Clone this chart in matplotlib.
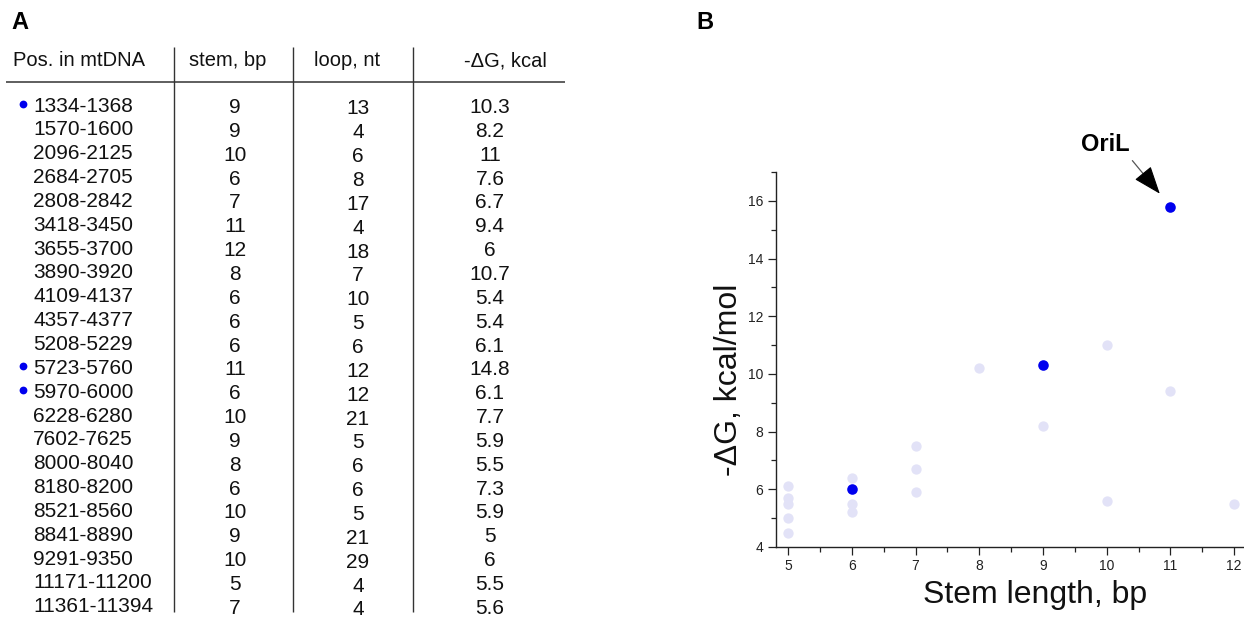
import matplotlib
matplotlib.use("Agg")
import matplotlib.pyplot as plt

plt.rcParams['font.family'] = ['Liberation Sans', 'DejaVu Sans']

# ---------------- data ----------------
positions = ["1334-1368", "1570-1600", "2096-2125", "2684-2705", "2808-2842",
             "3418-3450", "3655-3700", "3890-3920", "4109-4137", "4357-4377",
             "5208-5229", "5723-5760", "5970-6000", "6228-6280", "7602-7625",
             "8000-8040", "8180-8200", "8521-8560", "8841-8890", "9291-9350",
             "11171-11200", "11361-11394"]
stem_bp = [9, 9, 10, 6, 7, 11, 12, 8, 6, 6, 6, 11, 6, 10, 9, 8, 6, 10, 9, 10, 5, 7]
loop_nt = [13, 4, 6, 8, 17, 4, 18, 7, 10, 5, 6, 12, 12, 21, 5, 6, 6, 5, 21, 29, 4, 4]
dg_kcal = ["10.3", "8.2", "11", "7.6", "6.7", "9.4", "6", "10.7", "5.4", "5.4",
           "6.1", "14.8", "6.1", "7.7", "5.9", "5.5", "7.3", "5.9", "5", "6",
           "5.5", "5.6"]
marked_rows = [0, 11, 12]
headers = ["Pos. in mtDNA", "stem, bp", "loop, nt", "-\u0394G, kcal"]

stem_other = [5, 5, 5, 5, 5, 6, 6, 6, 7, 7, 7, 8, 9, 10, 10, 11, 12]
dg_other = [6.1, 5.7, 5.5, 5.0, 4.5, 6.4, 5.5, 5.2, 7.5, 6.7, 5.9, 10.2, 8.2,
            11.0, 5.6, 9.4, 5.5]
stem_hl = [6, 9, 11]
dg_hl = [6.0, 10.3, 15.8]
x_ticks = [5, 6, 7, 8, 9, 10, 11, 12]
y_ticks = [4, 6, 8, 10, 12, 14, 16]

# ---------------- figure ----------------
W, H = 1244, 617
fig = plt.figure(figsize=(W / 100, H / 100), dpi=100)
fig.patch.set_facecolor('white')

# pixel-space overlay axes for the table
tax = fig.add_axes([0, 0, 1, 1])
tax.set_xlim(0, W)
tax.set_ylim(H, 0)
tax.axis('off')

txt_col = '#111111'
line_col = '#333333'

tax.text(11, 29, "A", fontsize=17, fontweight='bold', ha='left', va='baseline', color='black')
tax.text(696, 29, "B", fontsize=17, fontweight='bold', ha='left', va='baseline', color='black')

# headers
hdr_base = 66.5
tax.text(13, hdr_base, headers[0], fontsize=14.5, ha='left', va='baseline', color=txt_col)
tax.text(228, hdr_base, headers[1], fontsize=14.5, ha='center', va='baseline', color=txt_col)
tax.text(347, hdr_base, headers[2], fontsize=14.5, ha='center', va='baseline', color=txt_col)
tax.text(505, hdr_base, headers[3], fontsize=14.5, ha='center', va='baseline', color=txt_col)

# grid lines
tax.plot([6, 565], [81.5, 81.5], color=line_col, lw=1.1, solid_capstyle='butt')
for xv in (174, 293, 413):
    tax.plot([xv, xv], [47, 612], color=line_col, lw=1.0, solid_capstyle='butt')

# rows
row0 = 111.5
dy = 23.85
fs_row = 15
for i, (p, s, l, g) in enumerate(zip(positions, stem_bp, loop_nt, dg_kcal)):
    yb = row0 + i * dy
    tax.text(33, yb, p, fontsize=fs_row, ha='left', va='baseline', color=txt_col)
    tax.text(235, yb + 1.5, str(s), fontsize=fs_row, ha='center', va='baseline', color=txt_col)
    tax.text(358, yb + 3, str(l), fontsize=fs_row, ha='center', va='baseline', color=txt_col)
    tax.text(490, yb + 1.5, g, fontsize=fs_row, ha='center', va='baseline', color=txt_col)

dot_x = [23 for _ in marked_rows]
dot_y = [row0 + i * dy - 8 for i in marked_rows]
tax.plot(dot_x, dot_y, 'o', color='#0000ee', markersize=5.6, markeredgewidth=0)

# ---------------- scatter panel ----------------
left, right, top, bottom = 776, 1243, 172, 547
ax = fig.add_axes([left / W, 1 - bottom / H, (right - left) / W, (bottom - top) / H])
ax.set_facecolor('none')
ax.scatter(stem_other, dg_other, s=55, color='#e2e2f7', linewidths=0, zorder=2, clip_on=False)
ax.scatter(stem_hl, dg_hl, s=58, color='#0000ee', linewidths=0, zorder=3, clip_on=False)

ax.set_xticks(x_ticks)
ax.set_yticks(y_ticks)
ax.set_xticks([v + 0.5 for v in x_ticks[:-1]], minor=True)
ax.set_yticks([v + 1 for v in y_ticks], minor=True)
ax.set_xlim(4.81, 12.14)
ax.set_ylim(4, 17)
for sp in ('top', 'right'):
    ax.spines[sp].set_visible(False)
for sp in ('left', 'bottom'):
    ax.spines[sp].set_linewidth(1.0)
    ax.spines[sp].set_color('#222222')
ax.tick_params(which='major', direction='out', length=5.5, width=0.9, color='#222222',
               labelsize=10, labelcolor='#222222', pad=3.5)
ax.tick_params(which='minor', direction='out', length=3.5, width=0.9, color='#222222')

fig.text(1035 / W, 1 - 603 / H, "Stem length, bp", fontsize=23, ha='center', va='baseline', color=txt_col)
fig.text(729 / W, 1 - 380 / H, "-\u0394G, kcal/mol", fontsize=23, rotation=90,
         ha='center', va='center', color=txt_col)

# OriL annotation
ax.annotate('', xy=(11, 15.8), xytext=(-38, 46), textcoords='offset pixels',
            arrowprops=dict(arrowstyle='-', color='#555555', lw=0.9,
                            shrinkA=0, shrinkB=20))
ax.annotate('', xy=(11, 15.8), xytext=(-27, 33), textcoords='offset pixels',
            arrowprops=dict(arrowstyle='-|>,head_length=0.8,head_width=0.3',
                            mutation_scale=22, color='black', lw=0.8,
                            shrinkA=0, shrinkB=12))
ax.annotate('OriL', xy=(11, 15.8), xytext=(-65, 56), textcoords='offset pixels',
            fontsize=17, fontweight='bold', ha='center', va='baseline', color='black',
            annotation_clip=False)

fig.savefig('out.png', dpi=100)
